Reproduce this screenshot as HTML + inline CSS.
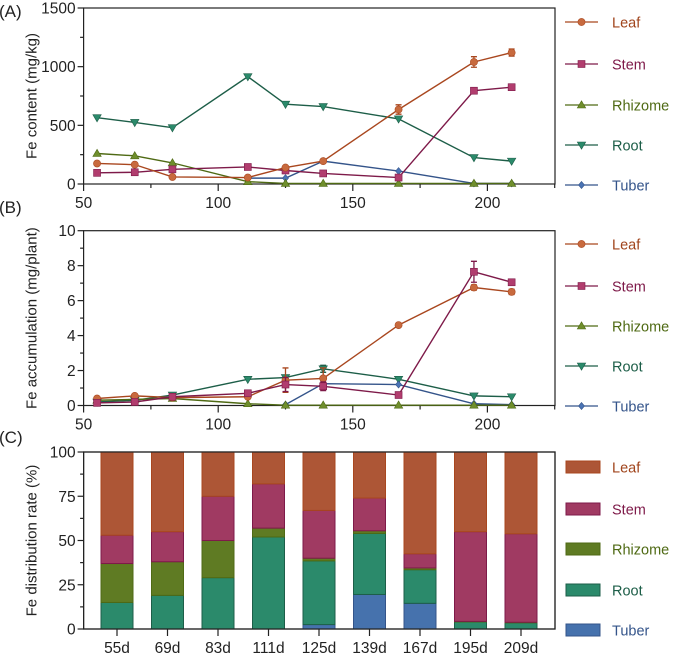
<!DOCTYPE html>
<html><head><meta charset="utf-8"><style>
body{margin:0;background:#fff}
svg{display:block;font-family:"Liberation Sans",Arial,sans-serif}
</style></head><body>
<svg id="chart" width="680" height="659" viewBox="0 0 680 659" xmlns="http://www.w3.org/2000/svg"></svg>
<script>
const days = [55,69,83,111,125,139,167,195,209];
const dayLabels = ["55d","69d","83d","111d","125d","139d","167d","195d","209d"];
const seriesNames = ["Leaf","Stem","Rhizome","Root","Tuber"];
const contentLeaf = [175,165,60,55,140,195,635,1040,1120];
const contentStem = [95,100,125,145,115,90,55,795,825];
const contentRhizome = [260,240,180,20,5,5,5,5,5];
const contentRoot = [565,525,480,915,680,660,555,225,195];
const contentTuber = [null,null,null,50,50,195,110,5,5];
const contentLeafErr = [0,0,0,0,0,0,40,45,30];
const accLeaf = [0.4,0.55,0.45,0.5,1.45,1.55,4.6,6.75,6.5];
const accStem = [0.15,0.2,0.5,0.7,1.2,1.1,0.6,7.65,7.05];
const accRhizome = [0.3,0.35,0.4,0.1,0.02,0.02,0.02,0.02,0.02];
const accRoot = [0.2,0.3,0.6,1.5,1.6,2.1,1.5,0.55,0.5];
const accTuber = [null,null,null,null,0.05,1.25,1.2,0.1,0.05];
const accStemErr = [0,0,0,0,0.4,0.25,0,0.6,0.1];
const accLeafErr = [0,0,0,0,0.7,0.6,0,0.15,0.15];
const accRootErr = [0,0,0,0,0,0.2,0,0,0];
const distTuber = [0,0,0,0,2.5,19.5,14.5,0,0];
const distRoot = [15,19,29,52,36,34.5,19,4,3.5];
const distRhizome = [22,19,21,5,1.5,1.5,1,0.3,0.3];
const distStem = [16,17,25,25,27,18.5,8,50.7,50];
const distLeaf = [47,45,25,18,33,26,57.5,45,46.2];
const contentTicks = [0,500,1000,1500];
const accTicks = [0,2,4,6,8,10];
const distTicks = [0,25,50,75,100];
const xTicks = [50,100,150,200];

const lineCol = ["#a9471f","#7e1a49","#4f6a14","#1d5e48","#34548a"];
const markCol = ["#c86a3e","#b13d6e","#6f8e2c","#2b8a6b","#4a74b5"];
const textCol = ["#a0441c","#7e1a49","#4f6a14","#1d5e48","#34548a"];
const barCol = ["#ad5636","#a03a62","#5f7b23","#2b8a6b","#4672ad"];

const NS="http://www.w3.org/2000/svg";
const svg=document.getElementById('chart');
function el(tag,attrs,parent){const e=document.createElementNS(NS,tag);for(const k in attrs)e.setAttribute(k,attrs[k]);(parent||svg).appendChild(e);return e;}
function txt(s,attrs,parent){const e=el('text',attrs,parent);e.textContent=s;return e;}
const L=83.6,R=555;
const xs=v=>L+(v-50)*(134.6/50);

function marker(g,i,x,y){
  const c=markCol[i],s=lineCol[i];
  let m;
  if(i===0)m=el('circle',{cx:x,cy:y,r:3.6,fill:c,stroke:s,'stroke-width':0.6},g);
  else if(i===1)m=el('rect',{x:x-3.5,y:y-3.5,width:7,height:7,fill:c,stroke:s,'stroke-width':0.6},g);
  else if(i===2)m=el('polygon',{points:`${x},${y-4.2} ${x+4.2},${y+3} ${x-4.2},${y+3}`,fill:c,stroke:s,'stroke-width':0.6},g);
  else if(i===3)m=el('polygon',{points:`${x},${y+4.2} ${x+4.2},${y-3} ${x-4.2},${y-3}`,fill:c,stroke:s,'stroke-width':0.6},g);
  else m=el('polygon',{points:`${x},${y-3.5} ${x+3},${y} ${x},${y+3.5} ${x-3},${y}`,fill:c,stroke:s,'stroke-width':0.6},g);
  return m;
}

function frame(g,t0,b0,ticks,ymax,ylabel,panel,panelY){
  el('rect',{x:L,y:t0,width:R-L,height:b0-t0,fill:'none',stroke:'#222','stroke-width':1.2},g);
  const ys=v=>b0-(v/ymax)*(b0-t0);
  ticks.forEach((t,k)=>{
    const y=ys(t);
    el('line',{x1:L-6,x2:L,y1:y,y2:y,stroke:'#222','stroke-width':1.2},g);
    txt(String(t),{x:L-8,y:y+5.5,'text-anchor':'end','font-size':15.5,fill:'#222'},g);
    if(k<ticks.length-1){const ym=ys((t+ticks[k+1])/2);el('line',{x1:L-3.5,x2:L,y1:ym,y2:ym,stroke:'#222','stroke-width':1.2},g);}
  });
  const cy=(t0+b0)/2;
  txt(ylabel,{x:0,y:0,transform:`translate(${L-47},${cy}) rotate(-90)`,'text-anchor':'middle','font-size':15,fill:'#222'},g);
  txt(panel,{x:-1,y:panelY,'font-size':17,fill:'#222'},g);
  return ys;
}
function xaxis(g,b0,labels){
  for(let v=50;v<=225;v+=25){
    const x=xs(v);const major=v%50===0;
    el('line',{x1:x,x2:x,y1:b0,y2:b0+(major?7:4),stroke:'#222','stroke-width':1.2},g);
  }
  if(labels)xTicks.forEach(t=>txt(String(t),{x:xs(t),y:b0+24,'text-anchor':'middle','font-size':15.5,fill:'#222'},g));
}
function lineLegend(g,rows){
  seriesNames.forEach((n,i)=>{
    const lg=el('g',{},g);
    
    
    el('line',{x1:565,x2:598,y1:rows[i],y2:rows[i],stroke:lineCol[i],'stroke-width':1.3},lg);
    marker(lg,i,581.5,rows[i]);
    txt(n,{x:612,y:rows[i]+5.5,'font-size':14.5,fill:textCol[i]},lg);
  });
}
function series(g,vals,i,ys,errs,name){
  const sg=el('g',{},g);
  
  
  let d='';
  vals.forEach((v,k)=>{if(v===null)return;d+=(d?'L':'M')+xs(days[k])+','+ys(v);});
  el('path',{d:d,fill:'none',stroke:lineCol[i],'stroke-width':1.4},sg);
  if(errs)vals.forEach((v,k)=>{const e=errs[k];if(!e||v===null)return;const x=xs(days[k]);
    el('path',{d:`M${x},${ys(v-e)}V${ys(v+e)}M${x-3},${ys(v-e)}h6M${x-3},${ys(v+e)}h6`,stroke:lineCol[i],'stroke-width':1.3,fill:'none'},sg);});
  vals.forEach((v,k)=>{if(v===null)return;marker(sg,i,xs(days[k]),ys(v));});
}

// Panel A
const gA=el('g',{});
const ysA=frame(gA,8,184,contentTicks,1500,'Fe content (mg/kg)','(A)',17);
xaxis(gA,184,true);
const dataA=[contentLeaf,contentStem,contentRhizome,contentRoot,contentTuber];
[3,4,2,1,0].forEach(i=>series(gA,dataA[i],i,ysA,i===0?contentLeafErr:null,'content-'+seriesNames[i].toLowerCase()));
lineLegend(gA,[22,64,105,145,185]);

// Panel B
const gB=el('g',{});
const ysB=frame(gB,230.7,405.5,accTicks,10,'Fe accumulation (mg/plant)','(B)',213);
xaxis(gB,405.5,true);
const dataB=[accLeaf,accStem,accRhizome,accRoot,accTuber];
const errB=[accLeafErr,accStemErr,null,accRootErr,null];
[3,4,2,0,1].forEach(i=>series(gB,dataB[i],i,ysB,errB[i],'accumulation-'+seriesNames[i].toLowerCase()));
lineLegend(gB,[244,286,326,366,406]);

// Panel C
const gC=el('g',{});
const topC=452,botC=629;
const ysC=frame(gC,topC,botC,distTicks,100,'Fe distribution rate (%)','(C)',443);
const first=L+33.4, bw=32;
const stacks=[distTuber,distRoot,distRhizome,distStem,distLeaf];
const stackIdx=[4,3,2,1,0];
days.forEach((d,k)=>{
  const cx=first+k*50.5;
  let base=0;
  stacks.forEach((arr,s)=>{
    const v=arr[k];const i=stackIdx[s];
    const r=el('rect',{x:cx-bw/2,y:ysC(base+v),width:bw,height:Math.max(0,ysC(base)-ysC(base+v)),fill:barCol[i],stroke:lineCol[i],'stroke-width':1},gC);
    
    
    base+=v;
  });
  el('line',{x1:cx,x2:cx,y1:botC,y2:botC+7,stroke:'#222','stroke-width':1.2},gC);
  txt(dayLabels[k],{x:cx,y:botC+24,'text-anchor':'middle','font-size':15.5,fill:'#222'},gC);
});
el('rect',{x:L,y:topC,width:R-L,height:botC-topC,fill:'none',stroke:'#222','stroke-width':1.2},gC);
const rowsC=[467,509,549,590,630];
seriesNames.forEach((n,i)=>{
  const lg=el('g',{},gC);
  
  
  el('rect',{x:566,y:rowsC[i]-6,width:34,height:12,fill:barCol[i],stroke:lineCol[i],'stroke-width':1},lg);
  txt(n,{x:612,y:rowsC[i]+5.5,'font-size':14.5,fill:textCol[i]},lg);
});
</script>
</body></html>
